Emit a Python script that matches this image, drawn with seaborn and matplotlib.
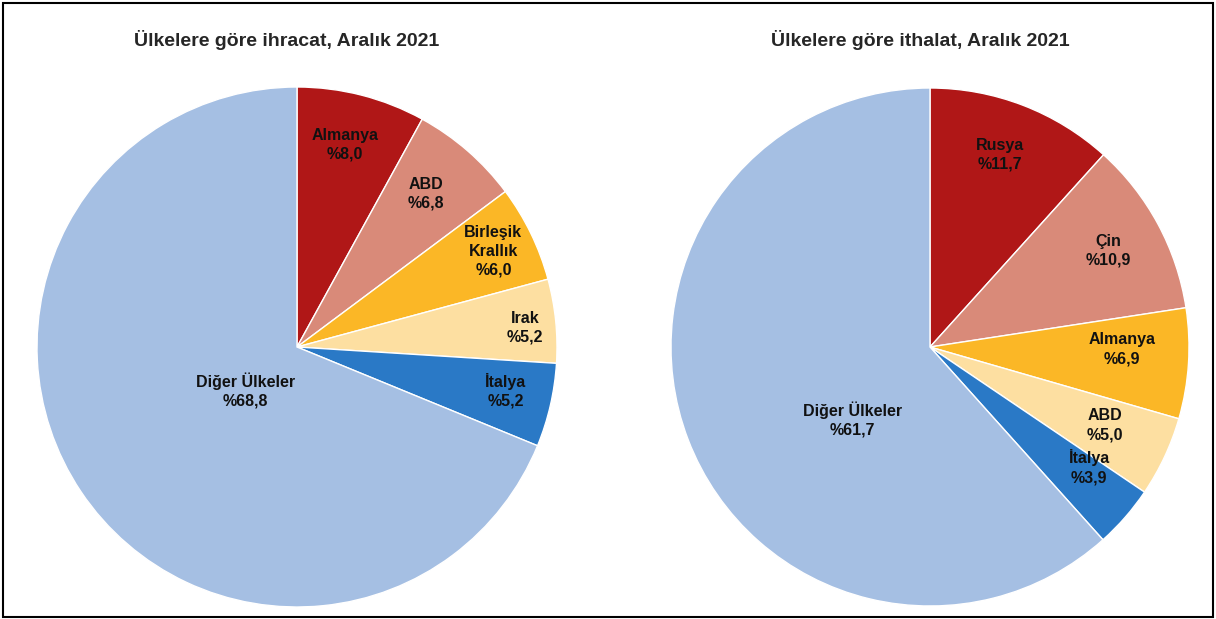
import numpy as np
import seaborn as sns
import matplotlib.pyplot as plt
from matplotlib.patches import Rectangle

# Data
exp_labels = ["Almanya", "ABD", "Birleşik\nKrallık", "Irak", "İtalya", "Diğer Ülkeler"]
exp_values = [8.0, 6.8, 6.0, 5.2, 5.2, 68.8]
imp_labels = ["Rusya", "Çin", "Almanya", "ABD", "İtalya", "Diğer Ülkeler"]
imp_values = [11.7, 10.9, 6.9, 5.0, 3.9, 61.7]

exp_title = "Ülkelere göre ihracat, Aralık 2021"
imp_title = "Ülkelere göre ithalat, Aralık 2021"

sns.set_style("white")
plt.rcParams['font.family'] = ['Liberation Sans', 'DejaVu Sans']

colors = sns.color_palette(["#B01717", "#D98A79", "#FBB726", "#FDDFA1", "#2A79C6", "#A5BFE3"])

fig = plt.figure(figsize=(12.16, 6.19), dpi=100)
W, H = 1216, 619


def draw_pie(cx, cy, r, values, labels, title, dists, shifts):
    ax = fig.add_axes([(cx - r) / W, (H - cy - r) / H, 2 * r / W, 2 * r / H])
    ax.pie(values, colors=colors, startangle=90, counterclock=False,
           wedgeprops=dict(edgecolor="white", linewidth=1))
    total = sum(values)
    cum = 0
    for v, lab, d, s in zip(values, labels, dists, shifts):
        mid = 90 - 360 * (cum + v / 2) / total + s
        cum += v
        x = d * np.cos(np.radians(mid))
        y = d * np.sin(np.radians(mid))
        ax.text(x, y, f"{lab}\n%{v:.1f}".replace(".", ","), ha="center", va="center",
                fontsize=11.5, fontweight="bold", color="#111111", linespacing=1.3)
    ax.set_xlim(-1, 1)
    ax.set_ylim(-1, 1)
    ax.set_aspect("equal")
    ax.axis("off")
    fig.text(cx / W - 10 / W, 1 - 40 / H, title, ha="center", va="center",
             fontsize=14, fontweight="bold")


draw_pie(297, 347, 260, exp_values, exp_labels, exp_title,
         [0.8, 0.77, 0.84, 0.88, 0.82, 0.26], [1, 1, 0, -1, 1, 6])
draw_pie(930, 347, 259, imp_values, imp_labels, imp_title,
         [0.79, 0.78, 0.74, 0.74, 0.77, 0.41], [1, 0, 3, 1, 4, 22])

fig.patches.append(Rectangle((3 / W, 2 / H), 1 - 6 / W, 1 - 5 / H, transform=fig.transFigure,
                             fill=False, edgecolor="black", linewidth=1.5))

plt.savefig("out.png", dpi=100)
